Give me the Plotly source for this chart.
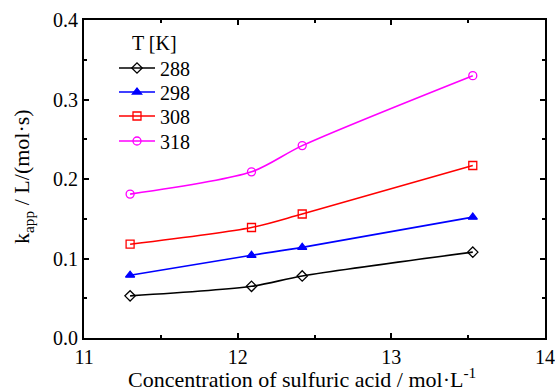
import plotly.graph_objects as go

conc = [11.3, 12.09, 12.42, 13.53]
k288 = [0.053, 0.065, 0.078, 0.108]
k298 = [0.079, 0.104, 0.114, 0.152]
k308 = [0.118, 0.139, 0.156, 0.217]
k318 = [0.181, 0.209, 0.242, 0.330]
labels = ["288", "298", "308", "318"]
colors = ["black", "blue", "red", "magenta"]
symbols = ["diamond-open", "triangle-up", "square-open", "circle-open"]

FAM = "Times New Roman, Liberation Serif, DejaVu Serif, serif"
FS = 20
FT = 22

# plot area in pixels: left 84, right 545, top 20, bottom 338
def py(p):
    return (338 - p) / 318.0

def px(p):
    return (p - 84) / 461.0

legend_names = ["legend", "legend2", "legend3", "legend4"]
legend_y = [68, 92, 116, 141]

fig = go.Figure()
for ys, lab, c, s, lg in zip([k288, k298, k308, k318], labels, colors, symbols, legend_names):
    fig.add_trace(go.Scatter(
        x=conc, y=ys, name=lab, mode="lines+markers", legend=lg,
        line=dict(color=c, width=1.6, shape="spline", smoothing=0.8),
        marker=dict(symbol=s, size=8, color=c, line=dict(color=c, width=1.3)),
    ))

axis_common = dict(
    showline=True, linecolor="black", linewidth=2, mirror="allticks",
    ticks="inside", ticklen=5, tickwidth=1.5, tickcolor="black",
    showgrid=False, zeroline=False, automargin=False,
    tickfont=dict(family=FAM, size=FS, color="black"),
)
legend_layouts = {}
for lg, yp in zip(legend_names, legend_y):
    legend_layouts[lg] = dict(
        x=px(114), y=py(yp), xanchor="left", yanchor="middle",
        bgcolor="rgba(0,0,0,0)", borderwidth=0,
        font=dict(family=FAM, size=FS, color="black"), itemwidth=36,
    )

fig.update_layout(
    width=555, height=392,
    margin=dict(l=84, r=10, t=20, b=54),
    plot_bgcolor="white", paper_bgcolor="white",
    font=dict(family=FAM, size=FS, color="black"),
    xaxis=dict(range=[11, 14], dtick=1, tick0=11,
               minor=dict(dtick=0.5, ticks="inside", ticklen=3, tickcolor="black", tickwidth=1.5),
               **axis_common),
    yaxis=dict(range=[0, 0.4], dtick=0.1, tickformat=".1f",
               minor=dict(dtick=0.05, ticks="inside", ticklen=3, tickcolor="black", tickwidth=1.5),
               **axis_common),
    showlegend=True,
    annotations=[
        dict(text="Concentration of sulfuric acid / mol·L<sup>-1</sup>",
             xref="paper", yref="paper", x=px(302), y=py(378),
             xanchor="center", yanchor="middle", showarrow=False,
             font=dict(family=FAM, size=FT, color="black")),
        dict(text="k<sub>app</sub> / L/(mol·s)",
             xref="paper", yref="paper", x=px(23), y=py(176), textangle=-90,
             xanchor="center", yanchor="middle", showarrow=False,
             font=dict(family=FAM, size=FT, color="black")),
        dict(text="T [K]",
             xref="paper", yref="paper", x=px(154), y=py(43),
             xanchor="center", yanchor="middle", showarrow=False,
             font=dict(family=FAM, size=FS, color="black")),
    ],
    **legend_layouts,
)
fig.write_html("out.html")
